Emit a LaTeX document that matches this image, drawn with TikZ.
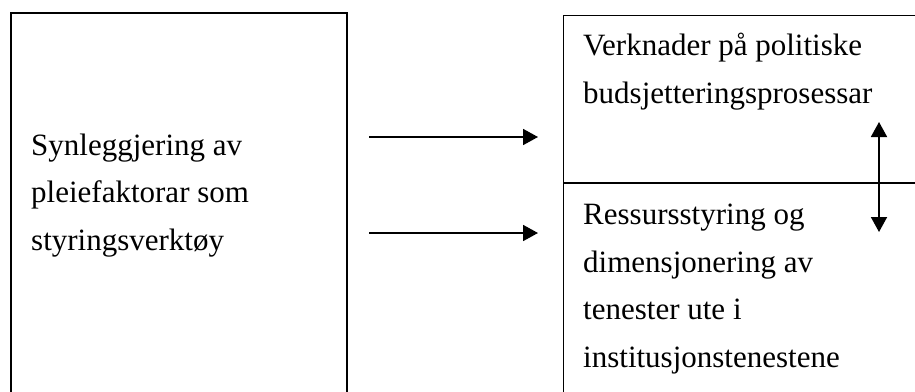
\documentclass[tikz,border=0pt]{standalone}
\usepackage{fontspec}
\setmainfont{Liberation Serif}
\usetikzlibrary{arrows.meta}
\begin{document}
\begin{tikzpicture}[x=1pt,y=-1pt,
  frame/.style={draw=black,line width=1.6pt},
  thinframe/.style={draw=black,line width=1.3pt},
  label/.style={anchor=base west,inner sep=0pt,align=left,
    font=\fontsize{31}{47.5}\selectfont},
  link/.style={line width=1.8pt,-{Triangle[length=15pt,width=16pt]}},
  twoway/.style={line width=1.8pt,{Triangle[length=15pt,width=16pt]}-{Triangle[length=15pt,width=16pt]}}]
\useasboundingbox (0,0) rectangle (915,391);
\clip (0,0) rectangle (915,391);
\fill[white] (0,0) rectangle (915,391);
% left box, open at the lower page edge
\node[frame,rectangle,anchor=north west,minimum width=336pt,minimum height=400pt,inner sep=0pt] (src) at (10,12) {};
% right box with divider
\node[thinframe,rectangle,anchor=north west,minimum width=380pt,minimum height=400pt,inner sep=0pt] (dst) at (563,15) {};
\coordinate (divl) at (563,183);
\coordinate (divr) at (920,183);
\draw[thinframe] (divl) -- (divr);
% texts (anchored at the baseline of the last line)
\node[label] (srctext) at (31,250) {Synleggjering av\\pleiefaktorar som\\styringsverktøy};
\node[label] (toptext) at (583,103) {Verknader på politiske\\budsjetteringsprosessar};
\node[label] (bottext) at (583,367) {Ressursstyring og\\dimensjonering av\\tenester ute i\\institusjonstenestene};
% arrows
\coordinate (a1s) at (369,137);
\coordinate (a1e) at (538,137);
\coordinate (a2s) at (369,233);
\coordinate (a2e) at (538,233);
\coordinate (vt) at (879,122);
\coordinate (vb) at (879,232);
\draw[link] (a1s) -- (a1e);
\draw[link] (a2s) -- (a2e);
\draw[twoway] (vt) -- (vb);
\end{tikzpicture}
\end{document}
